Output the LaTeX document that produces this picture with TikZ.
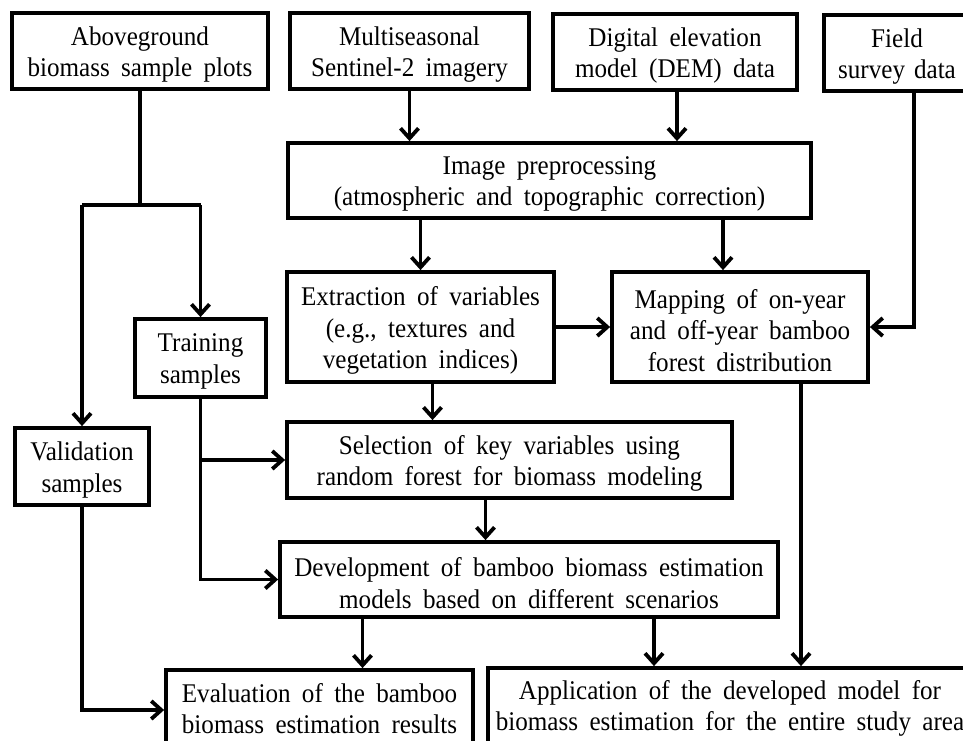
\documentclass[tikz,border=0pt]{standalone}
\usepackage{fontspec}
\setmainfont{Liberation Serif}[FakeStretch=0.93]
\usetikzlibrary{arrows.meta,calc}
\newcommand{\myboxfont}{\fontsize{27}{31.5}\selectfont\spaceskip=0.42em plus 0.1em minus 0.05em\relax}
\begin{document}
\begin{tikzpicture}[x=1pt,y=-1pt,
  box/.style={draw=black,line width=3.8pt,inner sep=0pt},
  txt/.style={align=center,inner sep=0pt,font=\myboxfont,yshift=-3.5pt},
  conn/.style={line width=3.8pt},
  arr/.style={conn,-{Straight Barb[length=10pt,width=18pt,line width=3.8pt]}}]
\clip (0,0) rectangle (963,740);
\fill[white] (0,0) rectangle (963,740);
\node[box,minimum width=256pt,minimum height=76pt] (agb) at (140,51) {};
\node[txt] (agbt) at (agb.center) {Aboveground\\biomass sample plots};
\node[box,minimum width=239pt,minimum height=76pt] (s2) at (409.5,51) {};
\node[txt] (s2t) at (s2.center) {Multiseasonal\\Sentinel-2 imagery};
\node[box,minimum width=244pt,minimum height=76pt] (dem) at (675,52) {};
\node[txt] (demt) at (dem.center) {Digital elevation\\model (DEM) data};
\node[box,minimum width=146pt,minimum height=76pt] (field) at (897,53) {};
\node[txt,text width=140pt] (fieldt) at (field.center) {Field\\survey data};
\node[box,minimum width=523pt,minimum height=75pt] (pre) at (549.5,180.5) {};
\node[txt] (pret) at (pre.center) {Image preprocessing\\(atmospheric and topographic correction)};
\node[box,minimum width=267pt,minimum height=110pt] (ext) at (420.5,327) {};
\node[txt] (extt) at (ext.center) {Extraction of variables\\(e.g., textures and\\vegetation indices)};
\node[box,minimum width=256pt,minimum height=110pt] (map) at (740,327) {};
\node[txt] (mapt) at (map.center) {Mapping of on-year\\and off-year bamboo\\forest distribution};
\node[box,minimum width=131pt,minimum height=78pt] (train) at (200.5,358) {};
\node[txt] (traint) at (train.center) {Training\\samples};
\node[box,minimum width=134pt,minimum height=77pt] (val) at (82,466.5) {};
\node[txt] (valt) at (val.center) {Validation\\samples};
\node[box,minimum width=445pt,minimum height=76pt] (sel) at (509.5,460) {};
\node[txt] (selt) at (sel.center) {Selection of key variables using\\random forest for biomass modeling};
\node[box,minimum width=498pt,minimum height=75pt] (dev) at (529,579.5) {};
\node[txt] (devt) at (dev.center) {Development of bamboo biomass estimation\\models based on different scenarios};
\node[box,minimum width=307pt,minimum height=80pt] (eval) at (319.5,710) {};
\node[txt] (evalt) at ([yshift=5pt]eval.center) {Evaluation of the bamboo\\biomass estimation results};
\node[box,minimum width=484pt,minimum height=78pt] (app) at (730,707) {};
\node[txt] (appt) at ([yshift=2pt]app.center) {Application of the developed model for\\biomass estimation for the entire study area};
\coordinate (split) at (0,205);
% top inputs
\draw[arr] (s2.south) -- (s2.south |- pre.north);
\draw[arr] ([xshift=2pt]dem.south) -- ([xshift=2pt]dem.south |- pre.north);
\draw[arr] (ext.north |- pre.south) -- (ext.north);
\draw[arr] ([xshift=-17pt]map.north |- pre.south) -- ([xshift=-17pt]map.north);
\draw[arr] (ext.east) -- (map.west);
\draw[arr] ([xshift=17pt]field.south) |- (map.east);
% sample split
\draw[conn] (agb.south) -- (agb.south |- split);
\draw[conn] (val.north |- split) -- (train.north |- split);
\draw[arr] (val.north |- split) -- (val.north);
\draw[arr] (train.north |- split) -- (train.north);
% training
\draw[arr] (train.south) |- (dev.west);
\draw[arr] (train.south |- sel.west) -- (sel.west);
% main chain
\draw[arr] ([xshift=12pt]ext.south) -- ([xshift=12pt]ext.south |- sel.north);
\draw[arr] ([xshift=-24pt]sel.south) -- ([xshift=-24pt]sel.south |- dev.north);
\draw[arr] ([xshift=43pt]eval.north |- dev.south) -- ([xshift=43pt]eval.north);
\draw[arr] ([xshift=125pt]dev.south) -- ([xshift=125pt]dev.south |- app.north);
\draw[arr] ([xshift=61pt]map.south) -- ([xshift=61pt]map.south |- app.north);
\draw[arr] (val.south) |- (eval.west);
\end{tikzpicture}
\end{document}
